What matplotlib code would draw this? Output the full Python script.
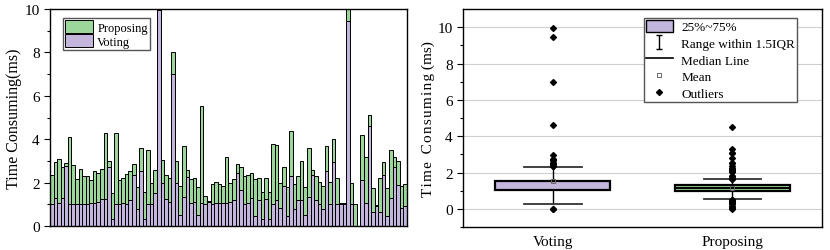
import numpy as np
import matplotlib
matplotlib.use("Agg")
import matplotlib.pyplot as plt
from matplotlib.patches import Patch
from matplotlib.lines import Line2D
from matplotlib.path import Path

plt.rcParams["font.family"] = ["Liberation Serif", "DejaVu Serif"]

# per-run times (ms), stacked: voting at the bottom, proposing on top
voting = [1.0, 1.3, 1.05, 1.3, 2.75, 1.0, 1.0, 1.0, 1.0, 1.0,
          1.0, 1.05, 1.05, 1.1, 1.25, 1.25, 2.7, 0.3, 1.0, 1.0,
          1.05, 1.0, 1.2, 2.35, 0.8, 2.55, 0.3, 1.0, 1.0, 1.5,
          9.95, 2.0, 1.25, 1.1, 7.0, 2.0, 0.5, 1.35, 2.25, 1.05,
          1.1, 0.5, 1.05, 1.0, 1.1, 1.0, 1.05, 1.05, 1.05, 1.05,
          1.1, 1.2, 2.45, 1.65, 1.0, 1.05, 1.3, 0.45, 1.2, 0.3,
          1.25, 0.3, 1.0, 1.2, 0.85, 1.85, 0.45, 2.3, 0.8, 1.2,
          1.2, 0.5, 1.35, 2.35, 1.2, 1.0, 0.8, 2.55, 1.0, 2.95,
          1.0, 1.0, 1.0, 9.45, 1.0, 0.0, 0.0, 2.1, 1.05, 4.6,
          0.65, 0.9, 0.65, 2.35, 0.45, 1.3, 2.7, 1.9, 0.85, 0.9]
proposing = [1.35, 1.65, 2.05, 1.4, 0.15, 3.1, 1.8, 1.15, 1.65, 1.3,
             1.3, 1.05, 1.5, 1.35, 1.4, 3.05, 0.3, 1.2, 3.3, 1.1,
             1.15, 1.4, 1.35, 0.5, 1.0, 1.05, 1.25, 2.5, 1.0, 1.1,
             0.6, 1.05, 1.1, 1.1, 1.0, 1.0, 1.35, 2.35, 0.35, 1.1,
             1.1, 1.3, 4.5, 0.4, 0.05, 0.95, 1.0, 0.9, 0.8, 2.15,
             0.9, 0.95, 0.4, 1.05, 1.3, 1.3, 1.15, 1.7, 1.0, 1.25,
             0.95, 1.25, 2.8, 2.55, 1.15, 0.85, 1.35, 2.1, 1.15, 1.1,
             1.8, 1.3, 2.25, 0.25, 1.1, 1.05, 1.05, 1.15, 1.05, 1.05,
             1.2, 0.05, 0.05, 0.6, 1.0, 1.0, 0.0, 2.1, 2.15, 0.5,
             1.1, 0.05, 1.55, 0.6, 1.3, 2.2, 0.5, 1.1, 1.0, 1.05]

# box statistics
box_labels = ["Voting", "Proposing"]
box_q1 = [1.03, 1.0]
box_med = [1.05, 1.12]
box_q3 = [1.53, 1.3]
box_mean = [1.52, 1.17]
box_lo = [0.28, 0.55]
box_hi = [2.31, 1.63]

purple = "#c4b5dc"
green = "#9dd69b"

fig = plt.figure(figsize=(8.3, 2.51), dpi=100)
ax1 = fig.add_axes([0.0602, 0.0956, 0.430, 0.8645])
ax2 = fig.add_axes([0.558, 0.0916, 0.4325, 0.8685])

# ---- left: stacked bars ----
x = np.arange(len(voting))
ax1.bar(x, voting, width=1.0, color=purple, edgecolor="black", linewidth=0.7,
        label="Voting")
ax1.bar(x, proposing, bottom=voting, width=1.0, color=green, edgecolor="black",
        linewidth=0.7, label="Proposing")
ax1.set_xlim(-0.5, len(voting) - 0.5)
ax1.set_ylim(0, 10)
ax1.set_xticks([])
ax1.set_yticks([0, 2, 4, 6, 8, 10])
ax1.set_yticks([1, 3, 5, 7, 9], minor=True)
ax1.tick_params(axis="y", labelsize=11, direction="out", length=4, width=0.8)
ax1.tick_params(axis="y", which="minor", length=2.5, width=0.8)
ax1.set_ylabel("Time Consuming(ms)", fontsize=11.5, labelpad=2)
h, l = ax1.get_legend_handles_labels()
ax1.legend(h[::-1], l[::-1], loc="upper left", bbox_to_anchor=(0.036, 0.96),
           fontsize=9, frameon=True, fancybox=False, edgecolor="#555555",
           handlelength=2.2, handleheight=1.15, labelspacing=0.05,
           borderpad=0.2, handletextpad=0.35, borderaxespad=0.0,
           framealpha=1.0)
for s in ax1.spines.values():
    s.set_linewidth(1.0)

# ---- right: box plot ----
fliers = []
for data, lo, hi in [(voting, box_lo[0], box_hi[0]), (proposing, box_lo[1], box_hi[1])]:
    fliers.append([v for v in data if v < lo or v > hi])
stats = []
for i in range(2):
    stats.append(dict(label=box_labels[i], q1=box_q1[i], med=box_med[i],
                      q3=box_q3[i], mean=box_mean[i], whislo=box_lo[i],
                      whishi=box_hi[i], fliers=fliers[i]))

ax2.set_axisbelow(True)
ax2.yaxis.grid(True, color="#cfcfcf", linewidth=0.8)
bp = ax2.bxp(stats, positions=[1, 2], widths=0.64, patch_artist=True,
             showmeans=True, showcaps=True,
             boxprops=dict(linewidth=1.6, edgecolor="black"),
             medianprops=dict(color="black", linewidth=1.4),
             whiskerprops=dict(color="black", linewidth=1.0),
             capprops=dict(color="#333333", linewidth=1.3),
             capwidths=0.32,
             meanprops=dict(marker="s", markersize=3, markerfacecolor="none",
                            markeredgecolor="#666666", markeredgewidth=0.7),
             flierprops=dict(marker="D", markersize=3, markerfacecolor="black",
                             markeredgecolor="black"))
for patch, c in zip(bp["boxes"], [purple, green]):
    patch.set_facecolor(c)

ax2.set_xlim(0.5, 2.5)
ax2.set_ylim(-1, 11)
ax2.set_yticks([0, 2, 4, 6, 8, 10])
ax2.set_yticks([-1, 1, 3, 5, 7, 9], minor=True)
ax2.set_xticks([1, 2])
ax2.set_xticklabels(box_labels, fontsize=11)
ax2.tick_params(axis="x", length=0, pad=6)
ax2.tick_params(axis="y", labelsize=11, direction="out", length=4, width=0.8)
ax2.tick_params(axis="y", which="minor", length=2.5, width=0.8)
ax2.set_ylabel("\u200a".join("Time") + "  " + "\u200a".join("Consuming") + " (ms)",
               fontsize=11, labelpad=2)
for s in ax2.spines.values():
    s.set_linewidth(1.0)

ibar = Path([(-0.5, 1), (0.5, 1), (0, 1), (0, -1), (-0.5, -1), (0.5, -1)],
            [Path.MOVETO, Path.LINETO, Path.MOVETO, Path.LINETO,
             Path.MOVETO, Path.LINETO])
handles = [
    Patch(facecolor=purple, edgecolor="black", linewidth=1.0),
    Line2D([], [], linestyle="none", marker=ibar, markersize=10, color="black",
           markeredgewidth=1.0),
    Line2D([], [], color="black", linewidth=1.2),
    Line2D([], [], linestyle="none", marker="s", markersize=3,
           markerfacecolor="none", markeredgecolor="#666666", markeredgewidth=0.7),
    Line2D([], [], linestyle="none", marker="D", markersize=3, color="black"),
]
labels = ["25%~75%", "Range within 1.5IQR", "Median Line", "Mean", "Outliers"]
ax2.legend(handles, labels, loc="upper right", bbox_to_anchor=(0.93, 0.96),
           fontsize=9.5, frameon=True, fancybox=False, edgecolor="#555555",
           handlelength=2.1, handleheight=1.0, labelspacing=0.25, borderpad=0.15,
           handletextpad=0.6, borderaxespad=0.0, framealpha=1.0)

fig.savefig("out.png", dpi=100)
